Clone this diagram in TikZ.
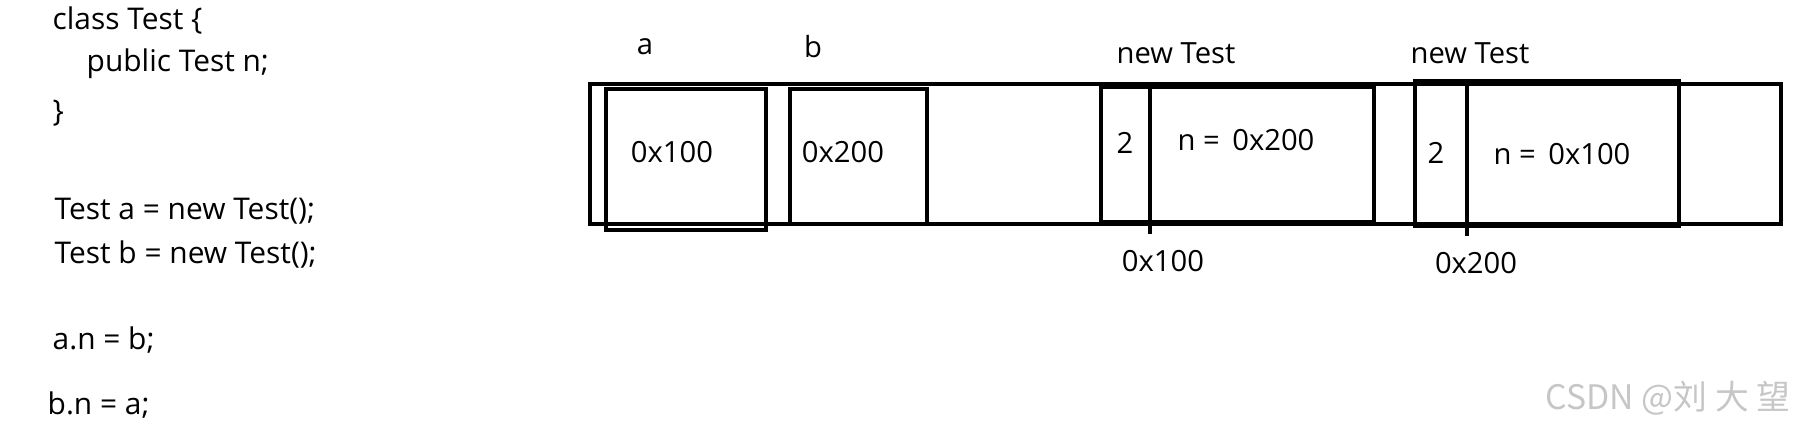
\documentclass[tikz,border=0pt]{standalone}
\usepackage{fontspec}
\setmainfont{Open Sans}
\newfontfamily\cjk{Noto Sans CJK SC}
\usetikzlibrary{positioning}

\begin{document}
\begin{tikzpicture}[
  x=0.01cm, y=-0.01cm,
  every node/.style={font=\fontsize{8.3}{10}\selectfont, inner sep=0pt},
  code/.style={anchor=west, font=\fontsize{8.5}{10}\selectfont},
  lbl/.style={anchor=center},
  heap/.style={draw, line width=0.9pt},
  cell/.style={draw, line width=1pt},
  wmark/.style={font=\cjk\fontsize{9.6}{11}\selectfont, text=gray!45},
]
  \useasboundingbox (0,0) rectangle (1804,429);

  % source code
  \node[code] (cls)  at (52,20)   {class Test \{};
  \node[code] (fld)  at (86,64)   {public Test n;};
  \node[code] (cend) at (52,113)  {\}};
  \node[code] (na)   at (54,211)  {Test a = new Test();};
  \node[code] (nb)   at (54,254)  {Test b = new Test();};
  \node[code] (an)   at (52,340)  {a.n = b;};
  \node[code] (bn)   at (47,405)  {b.n = a;};

  % memory strip
  \draw[heap] (590,84) rectangle (1781,224);
  \draw[cell] (606,89) rectangle (766,230);
  \draw[cell] (790,89) rectangle (927,224);
  \draw[cell] (1101,87) rectangle (1374,222);
  \draw[cell] (1150,87) -- (1150,234);
  \draw[cell] (1415,81) rectangle (1679,226);
  \draw[cell] (1467,81) -- (1467,236);

  % labels
  \node[lbl] (va)   at (645,47)   {a};
  \node[lbl] (vb)   at (813,47)   {b};
  \node[lbl] (obj1) at (1176,53)  {new Test};
  \node[lbl] (obj2) at (1470,53)  {new Test};
  \node[lbl] (ra)   at (672,152)  {0x100};
  \node[lbl] (rb)   at (843,152)  {0x200};
  \node[lbl] (c1)   at (1125,143) {2};
  \node[lbl] (f1)   at (1246,140) {n =\, 0x200};
  \node[lbl] (c2)   at (1436,153) {2};
  \node[lbl] (f2)   at (1562,154) {n =\, 0x100};
  \node[lbl] (ad1)  at (1163,261) {0x100};
  \node[lbl] (ad2)  at (1476,263) {0x200};

  \node[wmark] (wm) at (1668,398) {CSDN @刘 大 望};
\end{tikzpicture}
\end{document}
